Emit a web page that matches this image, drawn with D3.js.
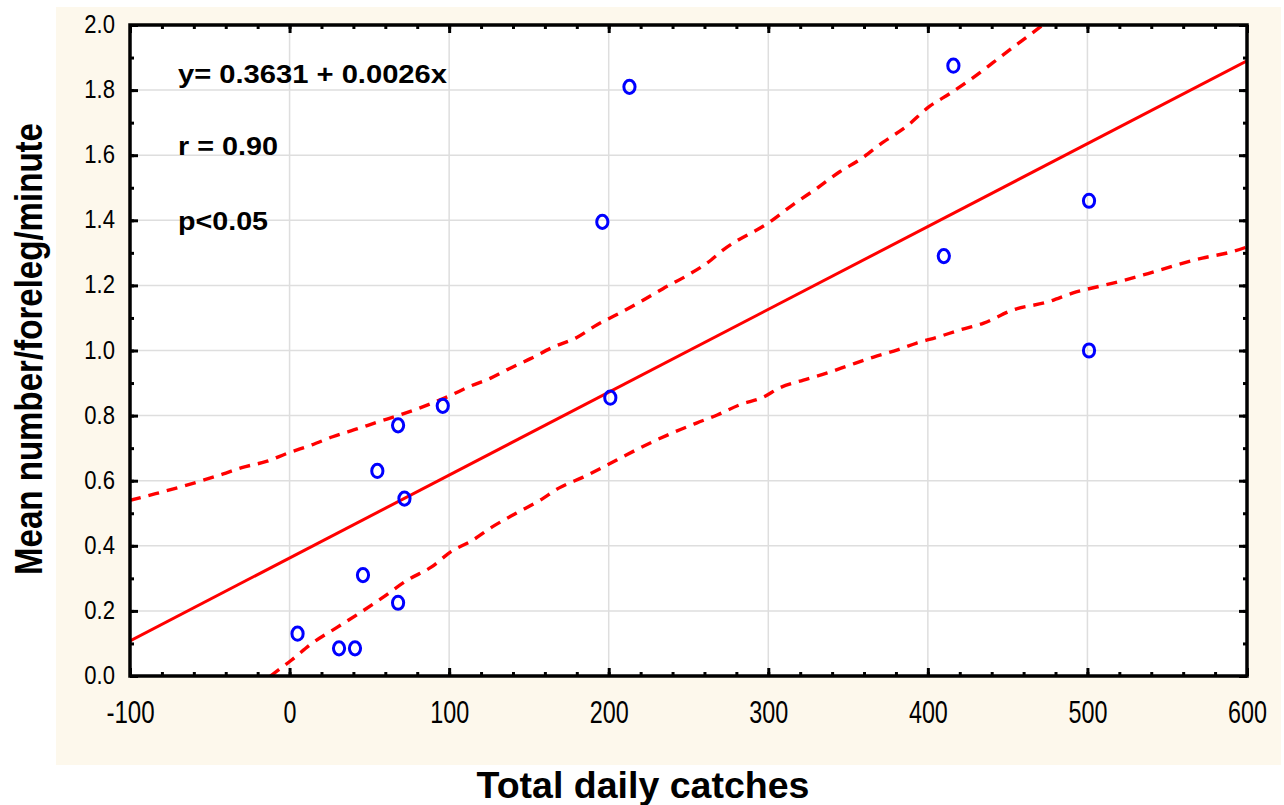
<!DOCTYPE html>
<html>
<head>
<meta charset="utf-8">
<script src="https://cdn.jsdelivr.net/npm/d3@7"></script>
<style>
  body { margin: 0; background: #ffffff; }
  svg { display: block; }
</style>
</head>
<body>
<svg id="chartArea" width="1284" height="805"></svg>
<script>
// observed points: total daily catches vs mean number/foreleg/minute
const catches = [5, 31, 41, 46, 68, 55, 72, 68, 96, 201, 196, 213, 410, 416, 501, 501];
const rates   = [0.13, 0.085, 0.085, 0.31, 0.225, 0.63, 0.545, 0.77, 0.83, 0.855, 1.395, 1.81, 1.29, 1.875, 1.46, 1.0];

// fitted line end points
const fitX = [-100, 600];
const fitY = [0.108, 1.89];

// 95% confidence band
const upperX = [-100, -84, -55, -42, -30, -14, -1, 14, 27, 43, 55, 68, 85, 100, 113, 126, 138, 151, 165, 180, 193, 207, 220, 234, 249, 262, 272, 301, 316, 331, 345, 357, 372, 387, 401, 414, 426, 441, 453, 468, 472];
const upperY = [0.54, 0.56, 0.60, 0.62, 0.64, 0.66, 0.685, 0.71, 0.735, 0.76, 0.78, 0.80, 0.83, 0.86, 0.89, 0.915, 0.945, 0.975, 1.01, 1.04, 1.08, 1.115, 1.15, 1.19, 1.23, 1.27, 1.31, 1.395, 1.45, 1.50, 1.55, 1.585, 1.64, 1.69, 1.75, 1.79, 1.83, 1.885, 1.93, 1.985, 2.0];
const lowerX = [-12, 1.5, 14, 30, 45, 58, 74, 89, 102, 113, 127, 142, 157, 169, 184, 199, 211, 226, 240, 255, 268, 282, 297, 307, 322, 337, 351, 366, 381, 393, 406, 420, 435, 453, 475, 493, 503, 516, 535, 556, 572, 588, 600];
const lowerY = [0.0, 0.05, 0.10, 0.15, 0.197, 0.24, 0.295, 0.335, 0.385, 0.412, 0.458, 0.50, 0.54, 0.578, 0.611, 0.648, 0.679, 0.716, 0.747, 0.777, 0.802, 0.833, 0.857, 0.885, 0.909, 0.931, 0.955, 0.98, 1.002, 1.023, 1.041, 1.063, 1.084, 1.124, 1.149, 1.18, 1.192, 1.207, 1.232, 1.263, 1.284, 1.30, 1.318];

const xTickLabels = [-100, 0, 100, 200, 300, 400, 500, 600];
const yTickLabels = [0, 0.2, 0.4, 0.6, 0.8, 1.0, 1.2, 1.4, 1.6, 1.8, 2.0];
const statLines = ["y= 0.3631 + 0.0026x", "r = 0.90", "p<0.05"];

const svg = d3.select("#chartArea");
const font = "'Liberation Sans', Arial, sans-serif";

// cream panel behind the plot
svg.append("rect")
    .attr("x", 56).attr("y", 7)
    .attr("width", 1225).attr("height", 758)
    .attr("fill", "#fdf8ec");

const margin = {left: 130, top: 25, right: 1247, bottom: 676};

let scaleX = d3.scaleLinear().domain([-100, 600]).range([margin.left, margin.right]);
let scaleY = d3.scaleLinear().domain([0, 2]).range([margin.bottom, margin.top]);

svg.append("rect")
    .attr("x", margin.left).attr("y", margin.top)
    .attr("width", margin.right - margin.left)
    .attr("height", margin.bottom - margin.top)
    .attr("fill", "#ffffff");

svg.append("clipPath").attr("id", "plotClip")
    .append("rect")
    .attr("x", margin.left).attr("y", margin.top)
    .attr("width", margin.right - margin.left)
    .attr("height", margin.bottom - margin.top);

// grid
let grid = svg.append("g").attr("stroke", "#dedede").attr("stroke-width", 1.5);
grid.selectAll(".gx")
    .data(xTickLabels.slice(1, -1))
    .enter().append("line")
    .attr("x1", d => scaleX(d)).attr("x2", d => scaleX(d))
    .attr("y1", margin.top).attr("y2", margin.bottom);
grid.selectAll(".gy")
    .data(yTickLabels.slice(1, -1))
    .enter().append("line")
    .attr("y1", d => scaleY(d)).attr("y2", d => scaleY(d))
    .attr("x1", margin.left).attr("x2", margin.right);

// ticks (inward), minor + major on all four sides
const minorX = d3.range(-100, 601, 20);
const minorY = d3.range(0, 2.01, 0.1);

function styleAxis(g) {
    g.select(".domain").remove();
    g.selectAll(".tick line").attr("stroke", "#000").attr("stroke-width", 3);
}

svg.append("g").attr("transform", `translate(0,${margin.bottom})`)
    .call(d3.axisBottom(scaleX).tickValues(minorX).tickSize(-4).tickFormat(""))
    .call(styleAxis);
svg.append("g").attr("transform", `translate(0,${margin.top})`)
    .call(d3.axisTop(scaleX).tickValues(minorX).tickSize(-4).tickFormat(""))
    .call(styleAxis);
svg.append("g").attr("transform", `translate(${margin.left},0)`)
    .call(d3.axisLeft(scaleY).tickValues(minorY).tickSize(-4).tickFormat(""))
    .call(styleAxis);
svg.append("g").attr("transform", `translate(${margin.right},0)`)
    .call(d3.axisRight(scaleY).tickValues(minorY).tickSize(-4).tickFormat(""))
    .call(styleAxis);

// condensed look of the tick labels
const condensedWidth = s => s.replace(/[^0-9]/g, "").length * 12.6 + (s.includes("-") ? 9 : 0) + (s.includes(".") ? 5.5 : 0);

let xAxis = svg.append("g").attr("transform", `translate(0,${margin.bottom})`)
    .call(d3.axisBottom(scaleX).tickValues(xTickLabels).tickSize(-8).tickFormat(d => String(d)))
    .call(styleAxis);
xAxis.selectAll("text")
    .attr("y", 47).attr("dy", 0)
    .attr("textLength", d => condensedWidth(String(d)) * 1.03)
    .attr("lengthAdjust", "spacingAndGlyphs")
    .style("font-family", font).style("font-size", "31px").attr("fill", "#000");

let yAxis = svg.append("g").attr("transform", `translate(${margin.left},0)`)
    .call(d3.axisLeft(scaleY).tickValues(yTickLabels).tickSize(-8).tickPadding(15).tickFormat(d3.format(".1f")))
    .call(styleAxis);
yAxis.selectAll("text")
    .attr("dy", "0.3em")
    .attr("textLength", d => condensedWidth(d3.format(".1f")(d)))
    .attr("lengthAdjust", "spacingAndGlyphs")
    .style("font-family", font).style("font-size", "25px").attr("fill", "#000");

svg.append("g").attr("transform", `translate(0,${margin.top})`)
    .call(d3.axisTop(scaleX).tickValues(xTickLabels).tickSize(-8).tickFormat(""))
    .call(styleAxis);
svg.append("g").attr("transform", `translate(${margin.right},0)`)
    .call(d3.axisRight(scaleY).tickValues(yTickLabels).tickSize(-8).tickFormat(""))
    .call(styleAxis);

// regression line and confidence band
let plot = svg.append("g").attr("clip-path", "url(#plotClip)");

let lineGenerator = d3.line()
    .x(d => scaleX(d[0]))
    .y(d => scaleY(d[1]));

plot.append("path")
    .datum(d3.zip(fitX, fitY))
    .attr("fill", "none").attr("stroke", "#ff0000").attr("stroke-width", 3)
    .attr("d", lineGenerator);

[d3.zip(upperX, upperY), d3.zip(lowerX, lowerY)].forEach(band => {
    plot.append("path")
        .datum(band)
        .attr("fill", "none").attr("stroke", "#ff0000").attr("stroke-width", 3.4)
        .attr("stroke-dasharray", "11,8")
        .attr("d", lineGenerator.curve(d3.curveMonotoneX));
});

// points
plot.selectAll(".pt")
    .data(d3.zip(catches, rates))
    .enter().append("ellipse")
    .attr("cx", d => scaleX(d[0]))
    .attr("cy", d => scaleY(d[1]))
    .attr("rx", 5.6).attr("ry", 6.6)
    .attr("fill", "none").attr("stroke", "#0000ff").attr("stroke-width", 3);

// frame
svg.append("rect")
    .attr("x", margin.left).attr("y", margin.top)
    .attr("width", margin.right - margin.left)
    .attr("height", margin.bottom - margin.top)
    .attr("fill", "none").attr("stroke", "#000").attr("stroke-width", 3.5);

// statistics text
const statBase = [83, 155, 230];
const statWidth = [269, 100, 90];
svg.selectAll(".stat")
    .data(statLines)
    .enter().append("text")
    .attr("x", 178)
    .attr("y", (d, i) => statBase[i])
    .attr("textLength", (d, i) => statWidth[i])
    .attr("lengthAdjust", "spacingAndGlyphs")
    .style("font-family", font).style("font-weight", "bold").style("font-size", "25px")
    .text(d => d);

// axis titles
svg.append("text")
    .attr("x", 643).attr("y", 798)
    .attr("text-anchor", "middle")
    .attr("textLength", 333).attr("lengthAdjust", "spacingAndGlyphs")
    .style("font-family", font).style("font-weight", "bold").style("font-size", "36px")
    .text("Total daily catches");

svg.append("text")
    .attr("transform", "translate(42,349) rotate(-90)")
    .attr("text-anchor", "middle")
    .attr("textLength", 452).attr("lengthAdjust", "spacingAndGlyphs")
    .style("font-family", font).style("font-weight", "bold").style("font-size", "39px")
    .text("Mean number/foreleg/minute");
</script>
</body>
</html>
